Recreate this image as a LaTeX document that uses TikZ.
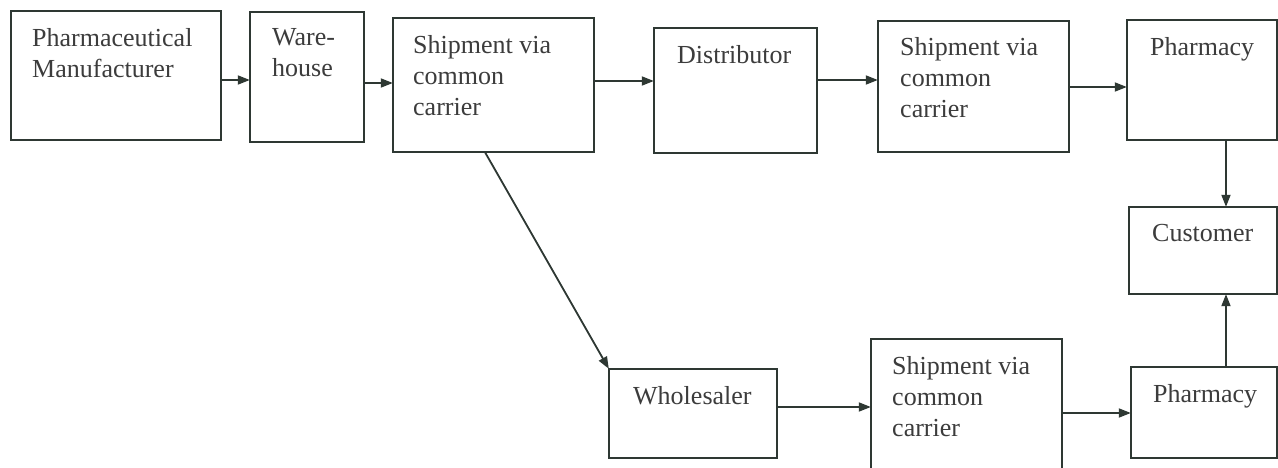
\documentclass[tikz,border=0pt]{standalone}
\usepackage{fontspec}
\setmainfont{Liberation Serif}
\usetikzlibrary{arrows.meta,positioning}
\definecolor{ln}{HTML}{2E3833}
\definecolor{tx}{HTML}{3C3C3C}
\tikzset{
  box/.style={draw=ln, line width=1.8pt, fill=none},
  boxn/.style={inner sep=0pt},
  lbl/.style={anchor=north west, inner sep=0pt, align=left, text=tx, font=\fontsize{26}{31}\selectfont},
  arr/.style={draw=ln, line width=1.8pt, -{Triangle[length=12pt,width=9pt]}},
}
\begin{document}
\begin{tikzpicture}[x=1pt,y=-1pt]
\clip (0,0) rectangle (1278,468);
\fill[white] (0,0) rectangle (1278,468);
% boxes
\node[boxn, minimum width=210pt, minimum height=129pt] (pm) at (116,75.5) {};
\node[boxn, minimum width=114pt, minimum height=130pt] (wh) at (307,77) {};
\node[boxn, minimum width=201pt, minimum height=134pt] (s1) at (493.5,85) {};
\node[boxn, minimum width=163pt, minimum height=125pt] (di) at (735.5,90.5) {};
\node[boxn, minimum width=191pt, minimum height=131pt] (s2) at (973.5,86.5) {};
\node[boxn, minimum width=150pt, minimum height=120pt] (ph1) at (1202,80) {};
\node[boxn, minimum width=148pt, minimum height=87pt] (cu) at (1203,250.5) {};
\node[boxn, minimum width=168pt, minimum height=89pt] (ws) at (693,413.5) {};
\node[boxn, minimum width=191pt, minimum height=141pt] (s3) at (966.5,409.5) {};
\node[boxn, minimum width=146pt, minimum height=91pt] (ph2) at (1204,412.5) {};
\foreach \n in {pm,wh,s1,di,s2,ph1,cu,ws,s3,ph2}{
  \draw[box] (\n.north west) rectangle (\n.south east);
}
% labels
\node[lbl] (tpm) at (32,28) {Pharmaceutical\\Manufacturer};
\node[lbl] (twh) at (272,28) {Ware-\\house};
\node[lbl] (ts1) at (413,35) {Shipment via\\common\\carrier};
\node[lbl] (tdi) at (677,45) {Distributor};
\node[lbl] (ts2) at (900,37) {Shipment via\\common\\carrier};
\node[lbl] (tph1) at (1150,37) {Pharmacy};
\node[lbl] (tcu) at (1152,224) {Customer};
\node[lbl] (tws) at (633,386) {Wholesaler};
\node[lbl] (ts3) at (892,356) {Shipment via\\common\\carrier};
\node[lbl] (tph2) at (1153,384) {Pharmacy};
% connectors
\draw[arr] (pm.east |- 0,80) -- (wh.west |- 0,80);
\draw[arr] (wh.east |- 0,83) -- (s1.west |- 0,83);
\draw[arr] (s1.east |- 0,81) -- (di.west |- 0,81);
\draw[arr] (di.east |- 0,80) -- (s2.west |- 0,80);
\draw[arr] (s2.east |- 0,87) -- (ph1.west |- 0,87);
\draw[arr] (ph1.south -| 1226,0) -- (cu.north -| 1226,0);
\draw[arr] (ph2.north -| 1226,0) -- (cu.south -| 1226,0);
\draw[arr] (ws.east |- 0,407) -- (s3.west |- 0,407);
\draw[arr] (s3.east |- 0,413) -- (ph2.west |- 0,413);
\draw[arr] (s1.south -| 485,0) -- (ws.north west);
\end{tikzpicture}
\end{document}
